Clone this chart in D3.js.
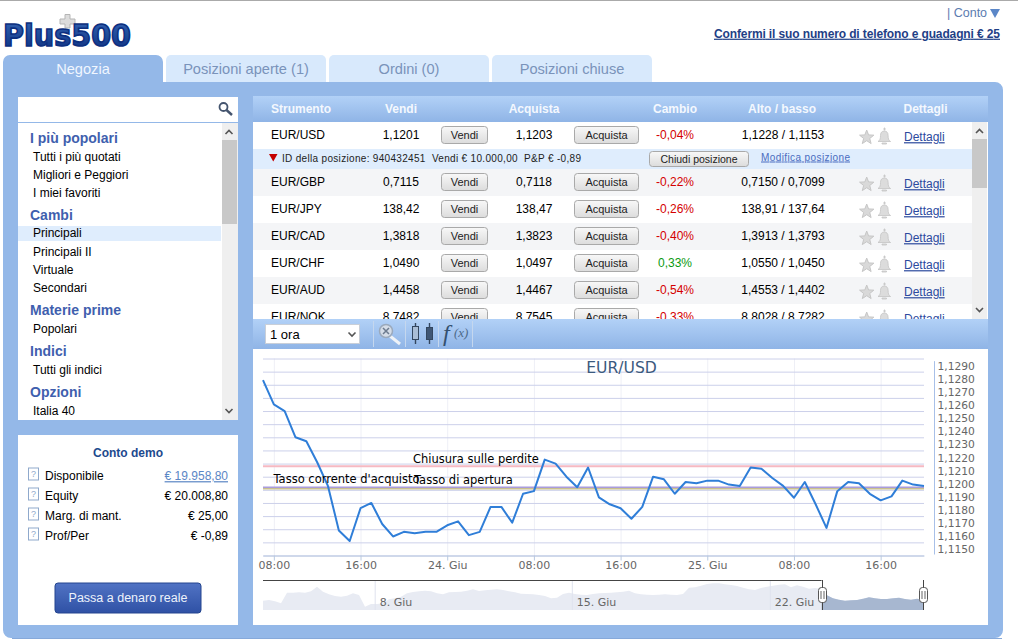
<!DOCTYPE html>
<html>
<head>
<meta charset="utf-8">
<script src="https://cdn.jsdelivr.net/npm/d3@7"></script>
<style>
  html, body { margin: 0; padding: 0; background: #fff; overflow: hidden; }
  svg { display: block; }
  text { font-family: "Liberation Sans", Arial, sans-serif; }
  .hc text { font-family: "DejaVu Sans", Verdana, sans-serif; }
</style>
</head>
<body>
<div id="chart-area"></div>
<script>
// table data
const instruments = ["EUR/USD", "EUR/GBP", "EUR/JPY", "EUR/CAD", "EUR/CHF", "EUR/AUD", "EUR/NOK"];
const sellPrices = ["1,1201", "0,7115", "138,42", "1,3818", "1,0490", "1,4458", "8,7482"];
const buyPrices = ["1,1203", "0,7118", "138,47", "1,3823", "1,0497", "1,4467", "8,7545"];
const changes = [-0.04, -0.22, -0.26, -0.40, 0.33, -0.54, -0.33];
const highLow = ["1,1228 / 1,1153", "0,7150 / 0,7099", "138,91 / 137,64", "1,3913 / 1,3793",
  "1,0550 / 1,0450", "1,4553 / 1,4402", "8,8028 / 8,7282"];
const headers = ["Strumento", "Vendi", "Acquista", "Cambio", "Alto / basso", "Dettagli"];
const tabs = ["Negozia", "Posizioni aperte (1)", "Ordini (0)", "Posizioni chiuse"];

// left menu, h = group title
const menu = [
  ["h", "I più popolari", 138], ["i", "Tutti i più quotati", 157], ["i", "Migliori e Peggiori", 175],
  ["i", "I miei favoriti", 193], ["h", "Cambi", 215], ["i", "Principali", 233], ["i", "Principali II", 252],
  ["i", "Virtuale", 270], ["i", "Secondari", 288], ["h", "Materie prime", 310], ["i", "Popolari", 329],
  ["h", "Indici", 351], ["i", "Tutti gli indici", 370], ["h", "Opzioni", 392], ["i", "Italia 40", 411]
];
const accountLabels = ["Disponibile", "Equity", "Marg. di mant.", "Prof/Per"];
const accountValues = ["€ 19.958,80", "€ 20.008,80", "€ 25,00", "€ -0,89"];

// chart data: hourly closes from 23 Jun 07:00
const startTime = Date.UTC(2015, 5, 23, 7);
const closes = [
  1.12835, 1.1265, 1.1260, 1.1240, 1.1237, 1.1221, 1.12028, 1.1169, 1.1161, 1.1186,
  1.1190, 1.1174, 1.11645, 1.1168, 1.1167, 1.1168, 1.1168, 1.1173, 1.1176, 1.11655,
  1.1168, 1.1187, 1.1187, 1.1175, 1.1197, 1.1199, 1.1223, 1.1220, 1.1210, 1.1202,
  1.1217, 1.11942, 1.1189, 1.1186, 1.1178, 1.1187, 1.1210, 1.1208, 1.1197, 1.1206,
  1.1205, 1.1207, 1.1207, 1.1204, 1.1203, 1.1217, 1.1216, 1.1209, 1.1203, 1.1194,
  1.1206, 1.1189, 1.1171, 1.1199, 1.1206, 1.1205, 1.1197, 1.1192, 1.1195, 1.1207,
  1.1204, 1.1203
];
const gridValues = d3.range(16).map((i) => 1.115 + i * 0.001);
const priceLabels = gridValues.slice(0, 15);
const xTickTimes = [1, 9, 17, 25, 33, 41, 49, 57];
const xTickLabels = ["08:00", "16:00", "24. Giu", "08:00", "16:00", "25. Giu", "08:00", "16:00"];
const stopLoss = 1.1218;
const currentBuy = 1.1202;
const openRate = 1.1201;

// navigator series
const navValues = [
  1.108, 1.110, 1.106, 1.100, 1.132, 1.132, 1.133, 1.132, 1.136, 1.150,
  1.135, 1.127, 1.122, 1.120, 1.123, 1.130, 1.125, 1.090, 1.098, 1.098,
  1.100, 1.112, 1.115, 1.120, 1.130, 1.134, 1.136, 1.138, 1.136, 1.130,
  1.127, 1.133, 1.134, 1.135, 1.138, 1.142, 1.137, 1.139, 1.141, 1.142,
  1.140, 1.136, 1.133, 1.129, 1.128, 1.127, 1.125, 1.122, 1.115, 1.117,
  1.128, 1.132, 1.128, 1.126, 1.125, 1.128, 1.130, 1.131, 1.132, 1.133,
  1.135, 1.138, 1.130, 1.127, 1.126, 1.125, 1.126, 1.127, 1.126, 1.125,
  1.128, 1.147, 1.148, 1.153, 1.158, 1.160, 1.160, 1.157, 1.155, 1.152,
  1.147, 1.142, 1.140, 1.146, 1.150, 1.153, 1.156, 1.157, 1.148, 1.154,
  1.150, 1.144, 1.146, 1.143, 1.124, 1.115, 1.111, 1.108, 1.109, 1.110,
  1.114, 1.118, 1.115, 1.113, 1.113, 1.115, 1.117, 1.113, 1.111, 1.114, 1.110
];
const navTickPos = [18.7, 51.55, 84.55];
const navTickLabels = ["8. Giu", "15. Giu", "22. Giu"];
const navSelection = [93.1, 110];

const svg = d3.select("#chart-area").append("svg").attr("width", 1018).attr("height", 643);
const defs = svg.append("defs");

function gradient(id, stops) {
  const g = defs.append("linearGradient").attr("id", id).attr("x1", 0).attr("y1", 0).attr("x2", 0).attr("y2", 1);
  stops.forEach((c, i) => g.append("stop").attr("offset", i / (stops.length - 1)).attr("stop-color", c));
}
gradient("bar", ["#b2d1f7", "#8fb4e6"]);
gradient("btn", ["#f8f8f8", "#dcdcdc"]);
gradient("real", ["#5173c4", "#2f51a5"]);
gradient("logo", ["#3566b4", "#0c2f80"]);

function label(parent, x, y, str, opts = {}) {
  return parent.append("text")
    .attr("x", x)
    .attr("y", y)
    .attr("dy", "0.35em")
    .attr("text-anchor", opts.anchor || "start")
    .attr("font-size", opts.size || 12)
    .attr("font-weight", opts.weight || "normal")
    .attr("fill", opts.fill || "#000")
    .attr("text-decoration", opts.underline ? "underline" : null)
    .attr("letter-spacing", opts.spacing || null)
    .text(str);
}

function rect(parent, x, y, w, h, fill, r) {
  return parent.append("rect").attr("x", x).attr("y", y).attr("width", w).attr("height", h)
    .attr("fill", fill).attr("rx", r || 0);
}

function chevron(parent, x, y, up, color) {
  const d = up ? -1 : 1;
  parent.append("path")
    .attr("d", `M${x - 3.5},${y - d * 2} L${x},${y + d * 1.5} L${x + 3.5},${y - d * 2}`)
    .attr("fill", "none").attr("stroke", color || "#555").attr("stroke-width", 1.6);
}

function button(parent, x, y, w, h, str, size) {
  rect(parent, x + 0.5, y + 0.5, w - 1, h - 1, "url(#btn)", 3).attr("stroke", "#a9a9a9");
  label(parent, x + w / 2, y + h / 2, str, { anchor: "middle", size: size || 11, fill: "#222" });
}

// page frame
rect(svg, 0, 0, 1018, 1, "#aaaaaa");
const panelColor = "#94b8e8";
svg.append("path")
  .attr("d", "M3,62 a7,7 0 0 1 7,-7 H156 a7,7 0 0 1 7,7 V82 H995 a8,8 0 0 1 8,8 V630 a8,8 0 0 1 -8,8 H11 a8,8 0 0 1 -8,-8 Z")
  .attr("fill", panelColor);
rect(svg, 12, 638, 990, 1, "#86a9da");

// logo
svg.append("path")
  .attr("d", "M65,14.5 h5 v4.5 h5 v5 h-5 v4 h-5 v-4 h-5 v-5 h5 Z")
  .attr("fill", "#dcdcdc").attr("stroke", "#b5b5b5");
svg.append("text")
  .attr("x", 3).attr("y", 45.5)
  .attr("font-size", 30)
  .attr("font-weight", "bold")
  .attr("fill", "url(#logo)")
  .attr("stroke", "#0c2f80").attr("stroke-width", 1.6)
  .attr("textLength", 128).attr("lengthAdjust", "spacingAndGlyphs")
  .style("font-family", "'DejaVu Sans'")
  .text("Plus500");

// top right links
label(svg, 947, 13, "| Conto", { fill: "#5b7cb0", size: 12.5 });
svg.append("path").attr("d", "M990,9 h10 l-5,9 Z").attr("fill", "#5b87c8");
label(svg, 714, 33.5, "Confermi il suo numero di telefono e guadagni € 25",
  { weight: "bold", fill: "#1f3f86", underline: true }).attr("textLength", 286);

// tabs
tabs.forEach((t, i) => {
  const x = i === 0 ? 3 : 166 + (i - 1) * 163;
  const w = 160;
  if (i > 0) {
    svg.append("path")
      .attr("d", `M${x},82 V60 a5,5 0 0 1 5,-5 H${x + w - 5} a5,5 0 0 1 5,5 V82 Z`)
      .attr("fill", "#d8e9fc");
  }
  label(svg, x + w / 2, 69, t, { anchor: "middle", size: 14.6, fill: i === 0 ? "#f0f6ff" : "#7a93ba" });
});

// search box and menu
rect(svg, 18, 97, 220, 323, "#fff");
rect(svg, 18, 122, 220, 1, "#94b8e8");
svg.append("circle").attr("cx", 223.5).attr("cy", 107).attr("r", 4).attr("fill", "none")
  .attr("stroke", "#44546e").attr("stroke-width", 1.8);
svg.append("line").attr("x1", 226.5).attr("y1", 110).attr("x2", 232).attr("y2", 115)
  .attr("stroke", "#44546e").attr("stroke-width", 2.4);
rect(svg, 222, 123, 16, 297, "#efefef");
rect(svg, 222, 140, 15, 84, "#c8c8c8");
chevron(svg, 229, 132, true);
chevron(svg, 229, 411, false);
rect(svg, 18, 226, 203, 15, "#dfedfd");
svg.append("g").selectAll("text")
  .data(menu)
  .enter()
  .append("text")
  .attr("x", (d) => (d[0] === "h" ? 30 : 33))
  .attr("y", (d) => d[2])
  .attr("dy", "0.35em")
  .attr("font-size", (d) => (d[0] === "h" ? 14 : 12))
  .attr("font-weight", (d) => (d[0] === "h" ? "bold" : "normal"))
  .attr("fill", (d) => (d[0] === "h" ? "#3f5fae" : "#000"))
  .text((d) => d[1]);

// account box
rect(svg, 18, 435, 220, 190, "#fff");
label(svg, 128, 453, "Conto demo", { anchor: "middle", weight: "bold", fill: "#1d4a8e" });
accountLabels.forEach((t, i) => {
  const cy = 476 + i * 20;
  rect(svg, 28.5, cy - 8, 10, 12, "#fff").attr("stroke", "#8fa9cc");
  label(svg, 33.5, cy - 2, "?", { anchor: "middle", size: 9, fill: "#8fa9cc" });
  label(svg, 45, cy, t);
  label(svg, 228, cy, accountValues[i], {
    anchor: "end",
    fill: i === 0 ? "#5b86c5" : "#000",
    underline: i === 0,
  });
});
rect(svg, 55, 583, 146, 30, "url(#real)", 3).attr("stroke", "#24458f");
label(svg, 128, 598, "Passa a denaro reale", { anchor: "middle", fill: "#eef3fc", size: 12.5 });

// instrument table
defs.append("clipPath").attr("id", "table-clip").append("rect")
  .attr("x", 253).attr("y", 122).attr("width", 735).attr("height", 197);
rect(svg, 253, 96, 735, 26, "url(#bar)");
const headerX = [301, 401, 534, 675, 782, 925.5];
headers.forEach((h, i) => label(svg, headerX[i], 109, h, { anchor: "middle", weight: "bold", fill: "#f4f8fe" }));

const table = svg.append("g").attr("clip-path", "url(#table-clip)");
rect(table, 253, 122, 735, 197, "#fff");
const rowCenter = (i) => (i === 0 ? 134.5 : 154.5 + i * 27);
const rows = table.selectAll("g.row")
  .data(instruments)
  .enter()
  .append("g")
  .attr("class", "row");

rows.each(function (name, i) {
  const row = d3.select(this);
  const cy = rowCenter(i);
  rect(row, 253, cy - 12.5, 719, 27, i % 2 === 1 ? "#f4f5f7" : "#fff");
  label(row, 271, cy, name);
  label(row, 401, cy, sellPrices[i], { anchor: "middle" });
  button(row, 441, cy - 8.5, 47, 18, "Vendi");
  label(row, 534, cy, buyPrices[i], { anchor: "middle" });
  button(row, 574, cy - 8.5, 65, 18, "Acquista");
  label(row, 675, cy, `${changes[i].toFixed(2).replace(".", ",")}%`, {
    anchor: "middle",
    fill: changes[i] < 0 ? "#d40000" : "#0a9a10",
  });
  label(row, 783, cy, highLow[i], { anchor: "middle" });
  // star
  const star = d3.range(10).map((k) => {
    const r = k % 2 === 0 ? 7.5 : 3.2;
    const a = -Math.PI / 2 + (k * Math.PI) / 5;
    return [866.7 + r * Math.cos(a), cy + 3 + r * Math.sin(a)];
  });
  row.append("polygon").attr("points", star.join(" ")).attr("fill", "#d9d9d9").attr("stroke", "#c6c6c6");
  // bell
  row.append("path")
    .attr("d", `M878,${cy + 7} c2,-1 2.5,-3 2.5,-6 c0,-3 1.5,-4.5 3.8,-4.5 c2.3,0 3.8,1.5 3.8,4.5 c0,3 0.5,5 2.5,6 Z M882,${cy + 8.5} h4.5 v1 h-4.5 Z M884,${cy - 6.5} h1 v2 h-1 Z`)
    .attr("fill", "#dcdcdc").attr("stroke", "#c4c4c4").attr("stroke-width", 0.8);
  label(row, 904, cy + 2.5, "Dettagli", { fill: "#2c4a9e", underline: true });
});

// open position row
rect(table, 253, 149, 719, 20, "#dfedfd");
table.append("path").attr("d", "M269,154 h8.5 l-4.25,7.5 Z").attr("fill", "#c40000");
label(table, 282, 158.5, "ID della posizione: 940432451  Vendi € 10.000,00  P&P € -0,89", { size: 10, fill: "#222" })
  .style("white-space", "pre")
  .attr("textLength", 299);
button(table, 649, 151, 100, 16, "Chiudi posizione", 10.5);
label(table, 761, 157, "Modifica posizione", { size: 10, fill: "#4a6cc0", underline: true }).attr("textLength", 89);

// table scrollbar
rect(table, 972, 122, 15, 197, "#efefef");
rect(table, 972, 139, 15, 49, "#c8c8c8");
chevron(table, 979.5, 131, true);
chevron(table, 979.5, 310, false);

// toolbar
rect(svg, 253, 319, 735, 30, "url(#bar)");
rect(svg, 265.5, 324.5, 94, 19, "#fff").attr("stroke", "#c9cfd8");
label(svg, 270, 334, "1 ora", { size: 13 });
chevron(svg, 352, 334.5, false);
[373, 405, 438, 472].forEach((x) => rect(svg, x, 321, 1, 26, "#c5d7ee"));
// zoom out icon
svg.append("line").attr("x1", 390).attr("y1", 336).attr("x2", 400).attr("y2", 344).attr("stroke", "#eef2f7").attr("stroke-width", 3);
svg.append("circle").attr("cx", 386).attr("cy", 331).attr("r", 6.5).attr("fill", "#d5dde8").attr("stroke", "#9aa9bc").attr("stroke-width", 1.5);
svg.append("path").attr("d", "M383,328 l6,6 M389,328 l-6,6").attr("stroke", "#6d7b8f").attr("stroke-width", 1.5);
// candles icon
svg.append("path").attr("d", "M415.5,323 V344 M429.5,323 V344").attr("stroke", "#33465f").attr("stroke-width", 1.4);
rect(svg, 412.5, 326.5, 6, 13, "#a9bdd6").attr("stroke", "#33465f");
rect(svg, 426.5, 327.5, 6, 12, "#3f5674").attr("stroke", "#33465f");
svg.append("text").attr("x", 443).attr("y", 341).attr("font-size", 24).attr("font-style", "italic")
  .attr("fill", "#33506f").style("font-family", "'Liberation Serif'").text("f");
svg.append("text").attr("x", 454).attr("y", 337).attr("font-size", 13).attr("font-style", "italic")
  .attr("fill", "#4d6a88").style("font-family", "'Liberation Serif'").text("(x)");

// price chart
rect(svg, 253, 349, 735, 276, "#fff");
const chart = svg.append("g").attr("class", "hc");

const x = d3.scaleUtc()
  .domain([startTime, d3.utcHour.offset(startTime, 61)])
  .range([263, 924]);
const y = d3.scaleLinear()
  .domain([1.115, 1.130])
  .range([555.5, 358.5]);
const timeOf = (i) => d3.utcHour.offset(startTime, i);

// vertical grid
chart.append("g")
  .attr("transform", "translate(0,555.5)")
  .call(d3.axisBottom(x).tickValues(xTickTimes.map(timeOf)).tickSize(-197).tickFormat(""))
  .call((g) => g.select(".domain").remove())
  .selectAll("line").attr("stroke", "#eeeff6");

// horizontal grid
chart.append("g")
  .attr("transform", "translate(263,0)")
  .call(d3.axisLeft(y).tickValues(gridValues).tickSize(-661).tickFormat(""))
  .call((g) => g.select(".domain").remove())
  .selectAll("line").attr("stroke", "#ccd0ea");

// x axis
const xAxisCall = d3.axisBottom(x)
  .tickValues(xTickTimes.map(timeOf))
  .tickFormat((d, i) => xTickLabels[i])
  .tickSize(5)
  .tickSizeOuter(0);
chart.append("g")
  .attr("transform", "translate(0,555.5)")
  .call(xAxisCall)
  .call((g) => g.select(".domain").attr("stroke", "#b9c9e0"))
  .call((g) => g.selectAll("line").attr("stroke", "#b9c9e0"))
  .selectAll("text")
  .attr("y", 6)
  .attr("font-size", 11)
  .attr("fill", "#666");

// y axis
const yAxisCall = d3.axisRight(y)
  .tickValues(priceLabels)
  .tickFormat((d) => d3.format(".4f")(d).replace(".", ","))
  .tickSize(0)
  .tickPadding(3);
chart.append("g")
  .attr("transform", "translate(934.5,0)")
  .call(yAxisCall)
  .call((g) => g.select(".domain").attr("stroke", "#a8c0e8").attr("d", `M0,${y(1.115) - 1}V${y(1.1298)}`))
  .selectAll("text")
  .attr("transform", "translate(0,-6)")
  .attr("font-size", 10.7)
  .attr("fill", "#666");

// level lines
const levels = [
  { value: stopLoss, color: "#f6b9c2", w: 2 },
  { value: openRate, color: "#c9c08e", w: 2 },
  { value: currentBuy, color: "#a99cdc", w: 1.5 },
];
chart.selectAll("line.level")
  .data(levels)
  .enter()
  .append("line")
  .attr("class", "level")
  .attr("x1", x.range()[0])
  .attr("x2", x.range()[1])
  .attr("y1", (d) => y(d.value))
  .attr("y2", (d) => y(d.value))
  .attr("stroke", (d) => d.color)
  .attr("stroke-width", (d) => d.w);

const line = d3.line()
  .x((d, i) => x(timeOf(i)))
  .y((d) => y(d));
chart.append("path")
  .datum(closes)
  .attr("d", line)
  .attr("fill", "none")
  .attr("stroke", "#2f7ed8")
  .attr("stroke-width", 2)
  .attr("stroke-linejoin", "round");

// chart labels
label(chart, 621.5, 368, "EUR/USD", { anchor: "middle", size: 15.6, fill: "#3b5a7e" });
label(chart, 413, 458.5, "Chiusura sulle perdite", { size: 11.5 });
label(chart, 273.5, 479, "Tasso corrente d'acquisto", { size: 11.5 });
label(chart, 414, 480, "Tasso di apertura", { size: 11.5 });

// navigator
const navX = d3.scaleLinear().domain([0, navValues.length - 1]).range([263, 923]);
const navY = d3.scaleLinear().domain([1.08, 1.17]).range([610, 580]);
const navArea = d3.area()
  .x((d, i) => navX(i))
  .y0(navY(1.08))
  .y1((d) => navY(d));
const nav = svg.append("g").attr("class", "hc");
defs.append("clipPath").attr("id", "nav-selected").append("rect")
  .attr("x", navX(navSelection[0])).attr("y", 575)
  .attr("width", navX(navSelection[1]) - navX(navSelection[0])).attr("height", 40);
nav.append("path").datum(navValues).attr("d", navArea).attr("fill", "#e8ebf3");
nav.append("path").datum(navValues).attr("d", navArea).attr("fill", "#a7b7d0").attr("clip-path", "url(#nav-selected)");
nav.selectAll("line.nav-grid")
  .data(navTickPos)
  .enter()
  .append("line")
  .attr("class", "nav-grid")
  .attr("x1", (d) => navX(d))
  .attr("x2", (d) => navX(d))
  .attr("y1", 580)
  .attr("y2", 610)
  .attr("stroke", "#dfe3ee");
navTickPos.forEach((p, i) => label(nav, navX(p) + 4.5, 602, navTickLabels[i], { size: 11, fill: "#666" }));
nav.append("line")
  .attr("x1", 263).attr("x2", navX(navSelection[0]))
  .attr("y1", 580.5).attr("y2", 580.5)
  .attr("stroke", "#444");
navSelection.forEach((p) => {
  const hx = Math.round(navX(p)) + 0.5;
  nav.append("line").attr("x1", hx).attr("x2", hx).attr("y1", 580).attr("y2", 610).attr("stroke", "#444");
  rect(nav, hx - 4, 587.5, 8, 15, "#fff", 3).attr("stroke", "#555");
  nav.append("path").attr("d", `M${hx - 1.5},591 V599 M${hx + 1.5},591 V599`).attr("stroke", "#666");
});
</script>
</body>
</html>
